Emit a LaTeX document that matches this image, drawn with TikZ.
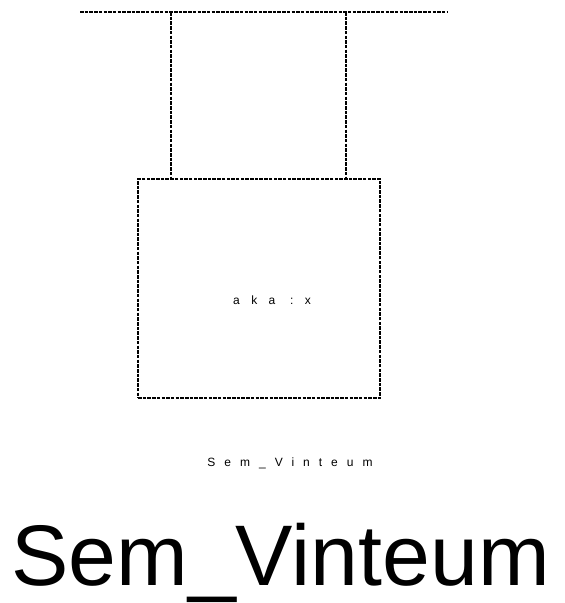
\documentclass[tikz,border=0pt]{standalone}
\usepackage{fontspec}
\setmainfont{Liberation Sans}
\begin{document}
\begin{tikzpicture}[x=1pt,y=-1pt,
  dline/.style={draw=black, line width=2pt, dash pattern=on 3.5pt off 1.2pt},
  smalltxt/.style={inner sep=0pt}]
\useasboundingbox (0,0) rectangle (565,603);
\coordinate (tl) at (80,12);
\coordinate (tr) at (447,12);
\coordinate (ja) at (171,12);
\coordinate (jb) at (346,12);
\node[dline, minimum width=242pt, minimum height=219pt, inner sep=0pt, anchor=north west] (box) at (137,178) {};
\draw[dline] (tl) -- (tr);
\draw[dline] (ja) -- (ja |- box.north);
\draw[dline] (jb) -- (jb |- box.north);
\node[smalltxt, font=\fontsize{12}{13}\selectfont\addfontfeature{LetterSpace=95}] (inner) at (272,300) {aka :x};
\node[smalltxt, font=\fontsize{12}{13}\selectfont\addfontfeature{LetterSpace=75}] (lbl) at (290,463) {Sem\_Vinteum};
\node[font=\fontsize{86}{90}\selectfont, inner sep=0pt, anchor=base west] (title) at (11,585) {Sem\_Vinteum};
\end{tikzpicture}
\end{document}
